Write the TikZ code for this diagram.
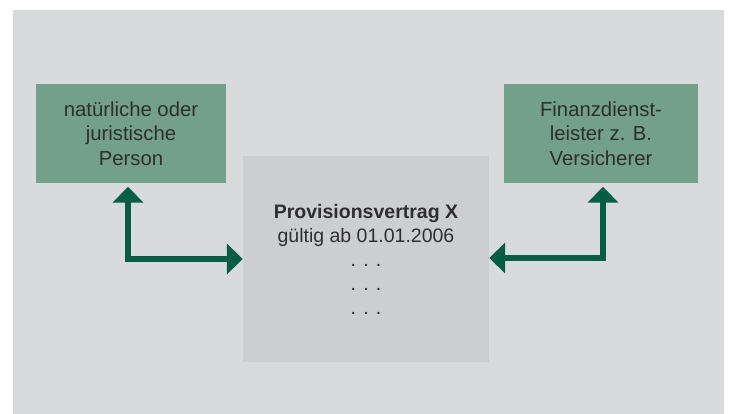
\documentclass[tikz,border=0pt]{standalone}
\usepackage{fontspec}
\setmainfont{Liberation Sans}
\usetikzlibrary{arrows.meta}
\definecolor{bggray}{HTML}{D9DADC}
\definecolor{boxgray}{HTML}{CDCED1}
\definecolor{partygreen}{HTML}{73A08A}
\definecolor{arrowgreen}{HTML}{005E44}
\definecolor{textgray}{HTML}{2E2E2E}
\tikzset{
  party/.style={fill=partygreen, inner sep=0pt, align=center, text=textgray,
    font=\fontsize{20.3}{24.5}\selectfont, minimum height=99pt},
  contract/.style={fill=boxgray, inner sep=0pt, align=center, text=textgray,
    font=\fontsize{19.5}{24}\selectfont, minimum width=246pt, minimum height=206pt},
  link/.style={draw=arrowgreen, line width=6pt, line join=miter,
    {Triangle[length=16pt,width=30pt]}-{Triangle[length=16pt,width=30pt]}}
}
\begin{document}
\begin{tikzpicture}[x=1pt, y=-1pt]
  \useasboundingbox (0,0) rectangle (730,414);
  \fill[bggray] (13,10) rectangle (724,414);

  \node[party, minimum width=190pt] (links) at (131,133.5)
    {natürliche oder\\juristische\\Person};
  \node[party, minimum width=194pt] (rechts) at (601,133.5)
    {Finanzdienst-\\leister z. B.\\Versicherer};
  \node[contract] (vertrag) at (366,259)
    {\textbf{Provisionsvertrag X}\\gültig ab 01.01.2006\\. . .\\. . .\\. . .};

  \draw[link, shorten <=3.5pt] ([xshift=-3pt]links.south) |- (vertrag.west);
  \draw[link, shorten <=3.5pt] ([xshift=2pt]rechts.south) |- ([yshift=1pt]vertrag.east);
\end{tikzpicture}
\end{document}
